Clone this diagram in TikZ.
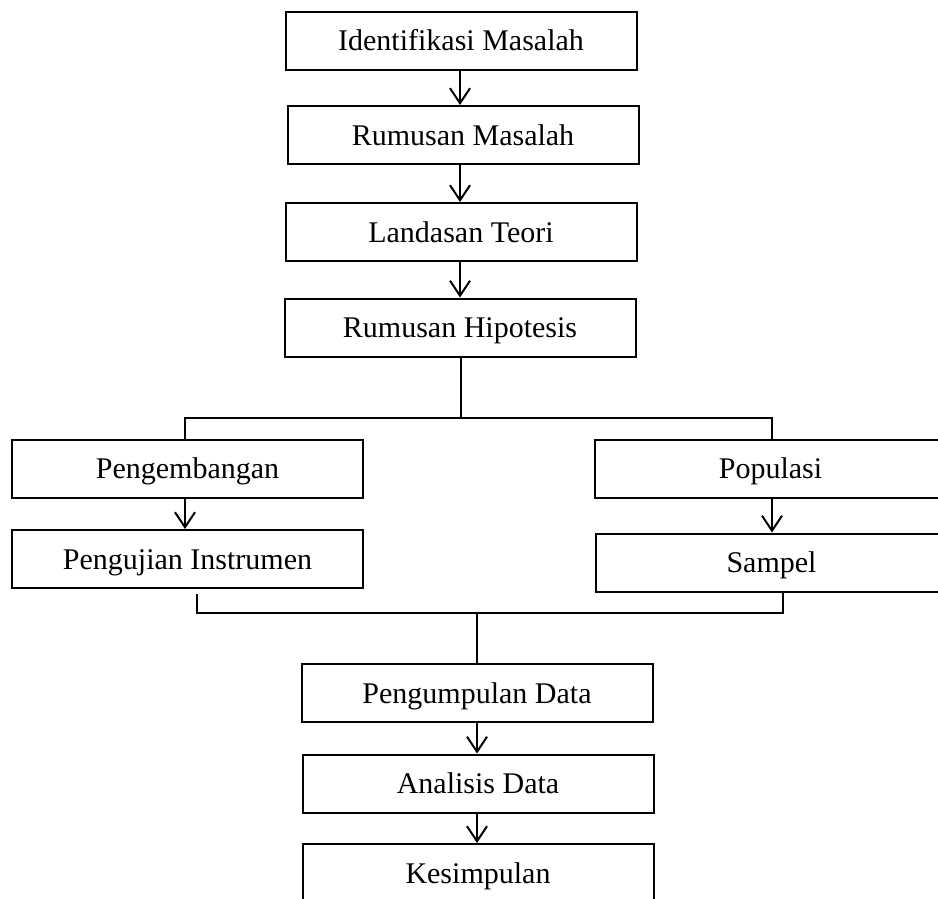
\documentclass[tikz,border=0pt]{standalone}
\usepackage{fontspec}
\setmainfont{Liberation Serif}
\usetikzlibrary{arrows.meta}

\begin{document}
\begin{tikzpicture}[x=1pt, y=-1pt,
                    box/.style={draw, line width=2pt, minimum width=351pt, minimum height=58pt,
                                inner sep=0pt, text height=20pt, text depth=0pt,
                                font=\fontsize{30}{36}\selectfont},
                    link/.style={line width=2pt},
                    arrow/.style={line width=2pt, -{Straight Barb[length=15pt, width=20pt]}}]
  \useasboundingbox (0,0) rectangle (938,899);
  \node[box] (identifikasi) at (461,41) {Identifikasi Masalah};
  \node[box] (rumusan) at (463,135) {Rumusan Masalah};
  \node[box] (landasan) at (461,232) {Landasan Teori};
  \node[box] (hipotesis) at (460,327.5) {Rumusan Hipotesis};
  \node[box] (pengembangan) at (187.5,468.5) {Pengembangan};
  \node[box] (pengujian) at (187.5,559) {Pengujian Instrumen};
  \node[box] (populasi) at (770.5,468.5) {Populasi};
  \node[box] (sampel) at (771.5,562.5) {Sampel};
  \node[box] (pengumpulan) at (477,693) {Pengumpulan Data};
  \node[box] (analisis) at (478,783.5) {Analisis Data};
  \node[box] (kesimpulan) at (478,873) {Kesimpulan};
  \coordinate (split) at (461,418);
  \coordinate (join) at (477,613);
  \draw[arrow] (identifikasi.south -| 460,0) -- (rumusan.north -| 460,0);
  \draw[arrow] (rumusan.south -| 460,0) -- (landasan.north -| 460,0);
  \draw[arrow] (landasan.south -| 460,0) -- (hipotesis.north -| 460,0);
  \draw[link] (hipotesis.south -| split) -- (split);
  \draw[link] (pengembangan.north -| 185,0) |- (split) -| (populasi.north -| 772,0);
  \draw[arrow] (pengembangan.south -| 185,0) -- (pengujian.north -| 185,0);
  \draw[arrow] (populasi.south -| 772,0) -- (sampel.north -| 772,0);
  \draw[link] ([shift={(9.5,5)}]pengujian.south) |- (join) -| (sampel.south -| 783,0);
  \draw[link] (join) -- (pengumpulan.north -| join);
  \draw[arrow] (pengumpulan.south) -- (analisis.north -| pengumpulan.south);
  \draw[arrow] (analisis.south -| pengumpulan.south) -- (kesimpulan.north -| pengumpulan.south);
\end{tikzpicture}
\end{document}
